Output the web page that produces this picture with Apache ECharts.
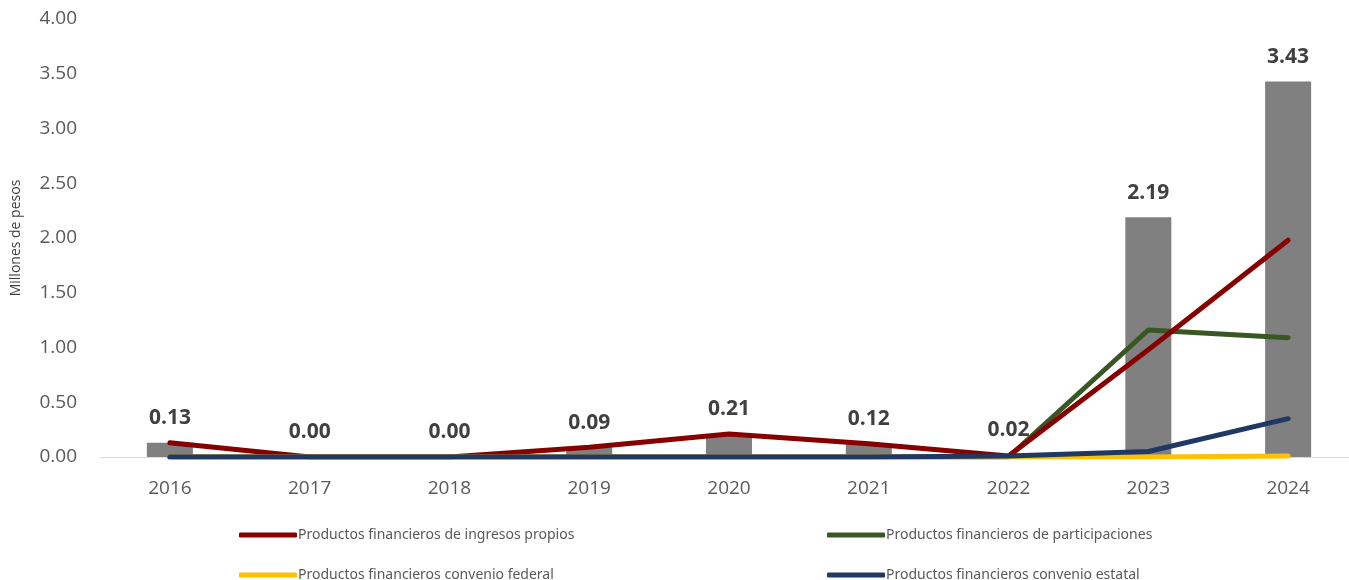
<!DOCTYPE html>
<html>
<head>
<meta charset="utf-8">
<script src="https://cdn.jsdelivr.net/npm/echarts@6/dist/echarts.min.js"></script>
<style>
html,body{margin:0;padding:0;background:#fff;overflow:hidden;}
#chart{width:1358px;height:580px;}
</style>
</head>
<body>
<div id="chart"></div>
<script>
var years = ['2016','2017','2018','2019','2020','2021','2022','2023','2024'];
var totals = [0.13, 0.00, 0.00, 0.09, 0.21, 0.12, 0.02, 2.19, 3.43];
var ingresosPropios = [0.13, 0.00, 0.00, 0.09, 0.21, 0.12, 0.01, 0.98, 1.98];
var participaciones = [0.00, 0.00, 0.00, 0.00, 0.00, 0.00, 0.00, 1.16, 1.09];
var convenioFederal = [0.00, 0.00, 0.00, 0.00, 0.00, 0.00, 0.00, 0.00, 0.01];
var convenioEstatal = [0.00, 0.00, 0.00, 0.00, 0.00, 0.00, 0.01, 0.05, 0.35];
var yTicks = [0, 4, 0.5];

var names = ['Productos financieros de ingresos propios','Productos financieros de participaciones','Productos financieros convenio federal','Productos financieros convenio estatal'];
var colors = ['#870000','#385723','#FFC000','#203864'];
var FONT = 'Open Sans';

function lineSeries(i, data, z){
  return {name:names[i], type:'line', data:data, symbol:'none', z:z,
    lineStyle:{width:5, color:colors[i], cap:'round'}, itemStyle:{color:colors[i]}};
}
function legendAt(i, left, top){
  return {data:[names[i]], left:left, top:top, icon:'roundRect', itemWidth:58, itemHeight:5, itemGap:0,
    textStyle:{fontFamily:'Noto Sans', fontSize:14, color:'#595959', padding:[0,0,0,-4]}};
}

var chart = echarts.init(document.getElementById('chart'));
chart.setOption({
  animation:false,
  backgroundColor:'#fff',
  textStyle:{fontFamily:FONT},
  grid:{left:100, right:0, top:19, height:438, containLabel:false},
  legend:[legendAt(0,234,523), legendAt(1,822,523), legendAt(2,234,563), legendAt(3,822,563)],
  xAxis:{type:'category', data:years, axisTick:{show:false},
    axisLine:{lineStyle:{color:'#d9d9d9', width:1}},
    axisLabel:{fontFamily:FONT, fontSize:19, color:'#595959', margin:22}},
  yAxis:{type:'value', min:yTicks[0], max:yTicks[1], interval:yTicks[2], splitLine:{show:false},
    axisLine:{show:false}, axisTick:{show:false},
    name:'Millones de pesos', nameLocation:'middle', nameGap:77, nameRotate:90,
    nameTextStyle:{fontFamily:FONT, fontSize:14, color:'#404040'},
    axisLabel:{fontFamily:FONT, fontSize:19, color:'#595959', margin:23,
      formatter:function(v){return v.toFixed(2);}}},
  series:[
    {name:'Total', type:'bar', data:totals, barWidth:46, z:1,
      itemStyle:{color:'#808080'},
      label:{show:true, position:'top', distance:14, fontFamily:FONT, fontWeight:'bold', fontSize:21, color:'#404040',
        formatter:function(p){return p.value.toFixed(2);}}},
    lineSeries(1, participaciones, 3),
    lineSeries(0, ingresosPropios, 4),
    lineSeries(2, convenioFederal, 5),
    lineSeries(3, convenioEstatal, 6)
  ]
});
</script>
</body>
</html>
